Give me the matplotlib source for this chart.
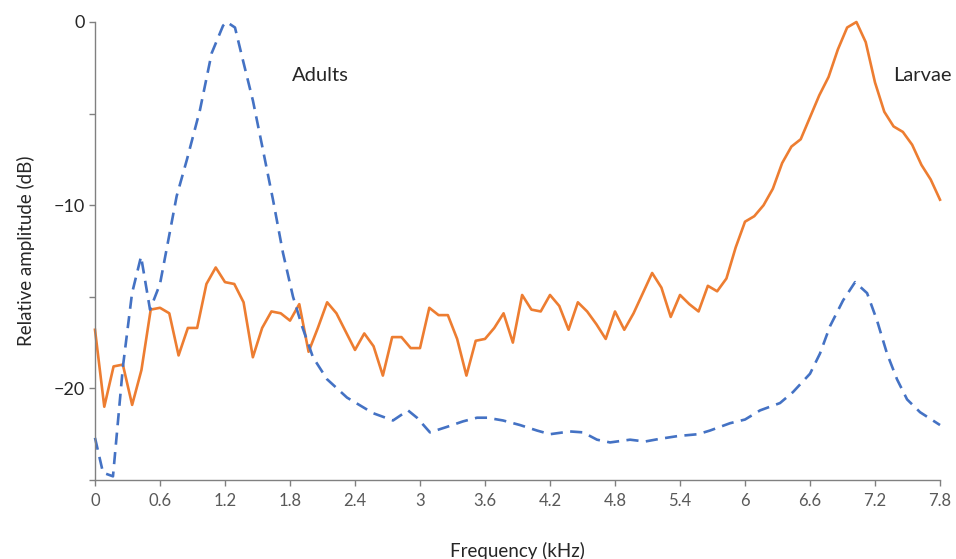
import numpy as np
import matplotlib
matplotlib.use("Agg")
import matplotlib.pyplot as plt

# Larvae (orange, solid) - sampled on a regular grid 0..7.8 kHz (92 points)
larvae_db = [-16.8, -21.0, -18.8, -18.7, -20.9, -19.0, -15.7, -15.6, -15.9, -18.2,
             -16.7, -16.7, -14.3, -13.4, -14.2, -14.3, -15.3, -18.3, -16.7, -15.8,
             -15.9, -16.3, -15.4, -18.0, -16.7, -15.3, -15.9, -16.9, -17.9, -17.0,
             -17.7, -19.3, -17.2, -17.2, -17.8, -17.8, -15.6, -16.0, -16.0, -17.3,
             -19.3, -17.4, -17.3, -16.7, -15.9, -17.5, -14.9, -15.7, -15.8, -14.9,
             -15.5, -16.8, -15.3, -15.8, -16.5, -17.3, -15.8, -16.8, -15.9, -14.8,
             -13.7, -14.5, -16.1, -14.9, -15.4, -15.8, -14.4, -14.7, -14.0, -12.3,
             -10.9, -10.6, -10.0, -9.1, -7.7, -6.8, -6.4, -5.2, -4.0, -3.0,
             -1.5, -0.3, 0.0, -1.1, -3.3, -4.9, -5.7, -6.0, -6.7, -7.8,
             -8.6, -9.7]
larvae_freq = np.linspace(0, 7.8, len(larvae_db))

# Adults (blue, dashed)
adults_freq = [0.0, 0.074, 0.166, 0.258, 0.342, 0.425, 0.508, 0.600, 0.754, 0.849,
               0.969, 1.077, 1.182, 1.216, 1.292, 1.366, 1.458, 1.551, 1.643, 1.735,
               1.828, 1.911, 2.012, 2.142, 2.326, 2.566, 2.751, 2.889, 2.972, 3.092,
               3.249, 3.397, 3.526, 3.619, 3.766, 3.923, 4.080, 4.200, 4.385, 4.505,
               4.634, 4.754, 4.939, 5.077, 5.216, 5.382, 5.566, 5.677, 5.862, 6.000,
               6.139, 6.323, 6.443, 6.600, 6.692, 6.785, 6.905, 7.016, 7.127, 7.219,
               7.311, 7.403, 7.496, 7.616, 7.800]
adults_db = [-22.7, -24.6, -24.8, -18.8, -14.8, -12.8, -15.7, -14.3, -9.5, -7.5,
             -4.8, -1.7, -0.2, 0.0, -0.3, -2.1, -4.3, -7.0, -9.7, -12.6,
             -15.0, -16.6, -18.3, -19.5, -20.5, -21.35, -21.75, -21.2, -21.6, -22.4,
             -22.1, -21.8, -21.6, -21.6, -21.75, -22.0, -22.3, -22.5, -22.35, -22.4,
             -22.8, -22.95, -22.8, -22.9, -22.75, -22.6, -22.5, -22.3, -21.9, -21.7,
             -21.2, -20.8, -20.2, -19.2, -18.1, -16.6, -15.2, -14.2, -14.8, -16.3,
             -18.1, -19.5, -20.6, -21.3, -22.0]

x_ticks = [0, 0.6, 1.2, 1.8, 2.4, 3, 3.6, 4.2, 4.8, 5.4, 6, 6.6, 7.2, 7.8]
x_tick_labels = ["0", "0.6", "1.2", "1.8", "2.4", "3", "3.6", "4.2", "4.8", "5.4",
                 "6", "6.6", "7.2", "7.8"]
y_ticks = [0, -5, -10, -15, -20, -25]
y_tick_labels = ["0", "", "\u221210", "", "\u221220", ""]

plt.rcParams['font.family'] = ['Lato', 'DejaVu Sans']

fig = plt.figure(figsize=(9.56, 5.59), dpi=100)
ax = fig.add_axes([95/956, 1 - 480/559, 845/956, 458/559])

ax.plot(larvae_freq, larvae_db, color='#ED7D31', lw=1.9, solid_joinstyle='round', clip_on=False)
ax.plot(adults_freq, adults_db, color='#4472C4', lw=1.9, dashes=(4.6, 2.8), clip_on=False)

ax.set_xlim(0, 7.8)
ax.set_ylim(-25, 0)
ax.set_xticks(x_ticks)
ax.set_xticklabels(x_tick_labels, color='#595959', fontsize=12)
ax.set_yticks(y_ticks)
ax.set_yticklabels(y_tick_labels, color='#262626', fontsize=13)

for s in ['top', 'right']:
    ax.spines[s].set_visible(False)
for s in ['left', 'bottom']:
    ax.spines[s].set_color('#808080')
    ax.spines[s].set_linewidth(1.0)
ax.tick_params(axis='both', direction='out', length=4, width=1.0, color='#808080')
ax.tick_params(axis='x', pad=5)
ax.tick_params(axis='y', pad=3)

ax.set_xlabel("Frequency (kHz)", fontsize=13.5, color='#262626', labelpad=24)
ax.set_ylabel("Relative amplitude (dB)", fontsize=13.5, color='#262626', labelpad=14)

ax.text(1.82, -2.9, "Adults", fontsize=14.5, color='#262626', ha='left', va='center')
ax.text(7.37, -2.9, "Larvae", fontsize=14.5, color='#262626', ha='left', va='center', clip_on=False)

fig.savefig("out.png", dpi=100)
